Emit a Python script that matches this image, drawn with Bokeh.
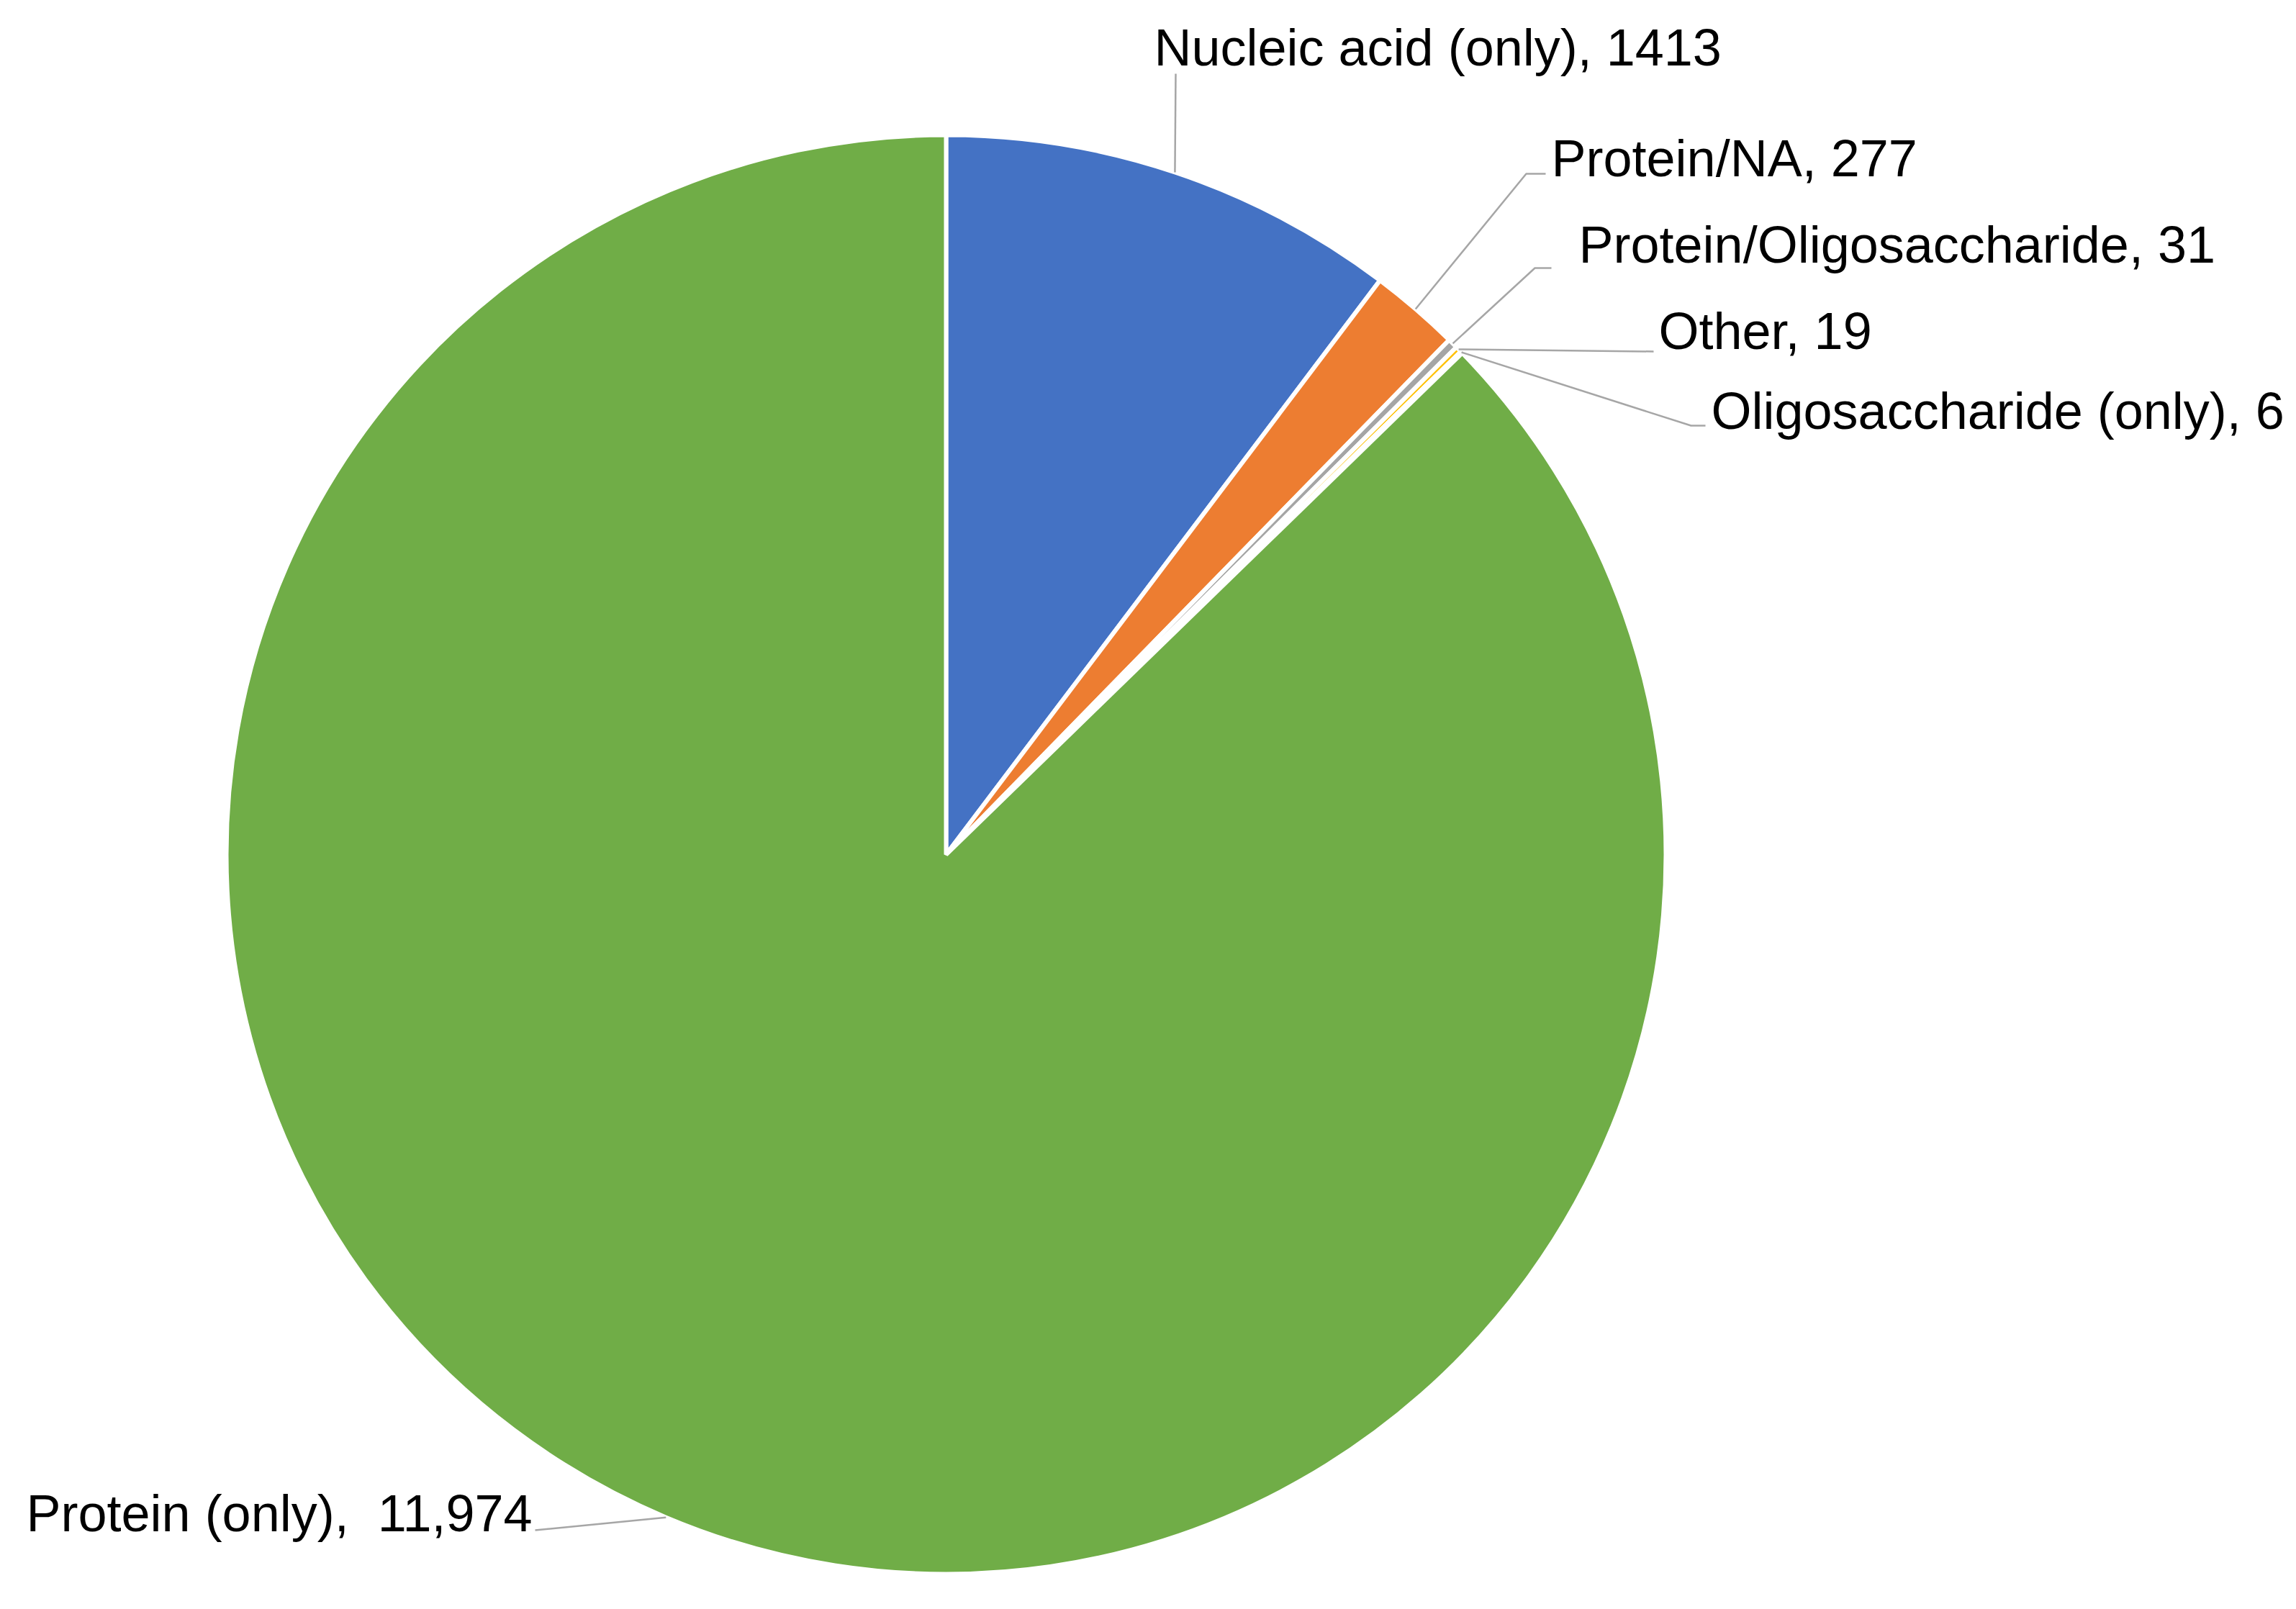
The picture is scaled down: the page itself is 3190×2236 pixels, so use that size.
import numpy as np
from bokeh.plotting import figure
from bokeh.models import Range1d, ColumnDataSource
from bokeh.core.properties import value
from bokeh.embed import file_html
from bokeh.resources import INLINE

# ---- data ----
categories = ["Nucleic acid (only)", "Protein/NA", "Protein/Oligosaccharide",
              "Other", "Oligosaccharide (only)", "Protein (only)"]
counts = [1413, 277, 31, 19, 6, 11974]
label_texts = ["Nucleic acid (only), 1413", "Protein/NA, 277",
               "Protein/Oligosaccharide, 31", "Other, 19",
               "Oligosaccharide (only), 6", "Protein (only),\u00a0 11,974"]
colors = ["#4472C4", "#ED7D31", "#A5A5A5", "#FFC000", "#5B9BD5", "#70AD47"]

# ---- layout (page pixel coords, y down) ----
PAGE_H = 2236
W, H = 3174, 2220
OFFX, OFFY = 7, 7          # rendering frame correction
TEXT_DY = -22              # baseline correction for text glyphs
cx_px, cy_px, R = 1315, 1188, 1000
label_pos = [(1604, 88), (2156, 242), (2194, 362), (2305, 482), (2378, 593), (37, 2125)]
leader_elbow = [(1634, 103), (2121, 242), (2133, 373), (2298, 489), (2350, 592), (744, 2127)]
leader_end = [(1634, 103), (2148, 242), (2156, 373), (2298, 489), (2370, 592), (744, 2127)]

def fx(px):
    return px + OFFX

def fy(py):
    return PAGE_H - (py + OFFY)

cx, cy = fx(cx_px), fy(cy_px)

vals = np.array(counts, dtype=float)
total = vals.sum()
cum = np.concatenate([[0], np.cumsum(vals)])
start = np.pi / 2 - 2 * np.pi * cum[:-1] / total
end = np.pi / 2 - 2 * np.pi * cum[1:] / total
mid = (start + end) / 2

p = figure(width=W, height=H, output_backend="svg", toolbar_location=None,
           x_range=Range1d(8, 8 + W), y_range=Range1d(PAGE_H - (8 + H), PAGE_H - 8),
           min_border=0)
p.axis.visible = False
p.grid.visible = False
p.outline_line_color = None
p.background_fill_color = "white"
p.border_fill_color = "white"

src = ColumnDataSource(dict(start=start, end=end, color=colors, cat=categories, val=counts))
p.wedge(x=cx, y=cy, radius=R, start_angle="start", end_angle="end",
        direction="clock", fill_color="color", line_color="white",
        line_width=6, source=src)

# leader lines
xs, ys = [], []
for i in range(len(counts)):
    ex = cx + R * np.cos(mid[i])
    ey = cy + R * np.sin(mid[i])
    xs.append([ex, fx(leader_elbow[i][0]), fx(leader_end[i][0])])
    ys.append([ey, fy(leader_elbow[i][1]), fy(leader_end[i][1])])
p.multi_line(xs=xs, ys=ys, line_color="#A6A6A6", line_width=2.5)

# labels
p.text(x=[fx(lp[0]) for lp in label_pos], y=[fy(lp[1] + TEXT_DY) for lp in label_pos],
       text=label_texts, text_font=value("Liberation Sans"),
       text_font_size="72px", text_color="black",
       text_align="left", text_baseline="alphabetic")

open("out.html", "w").write(file_html(p, INLINE))
